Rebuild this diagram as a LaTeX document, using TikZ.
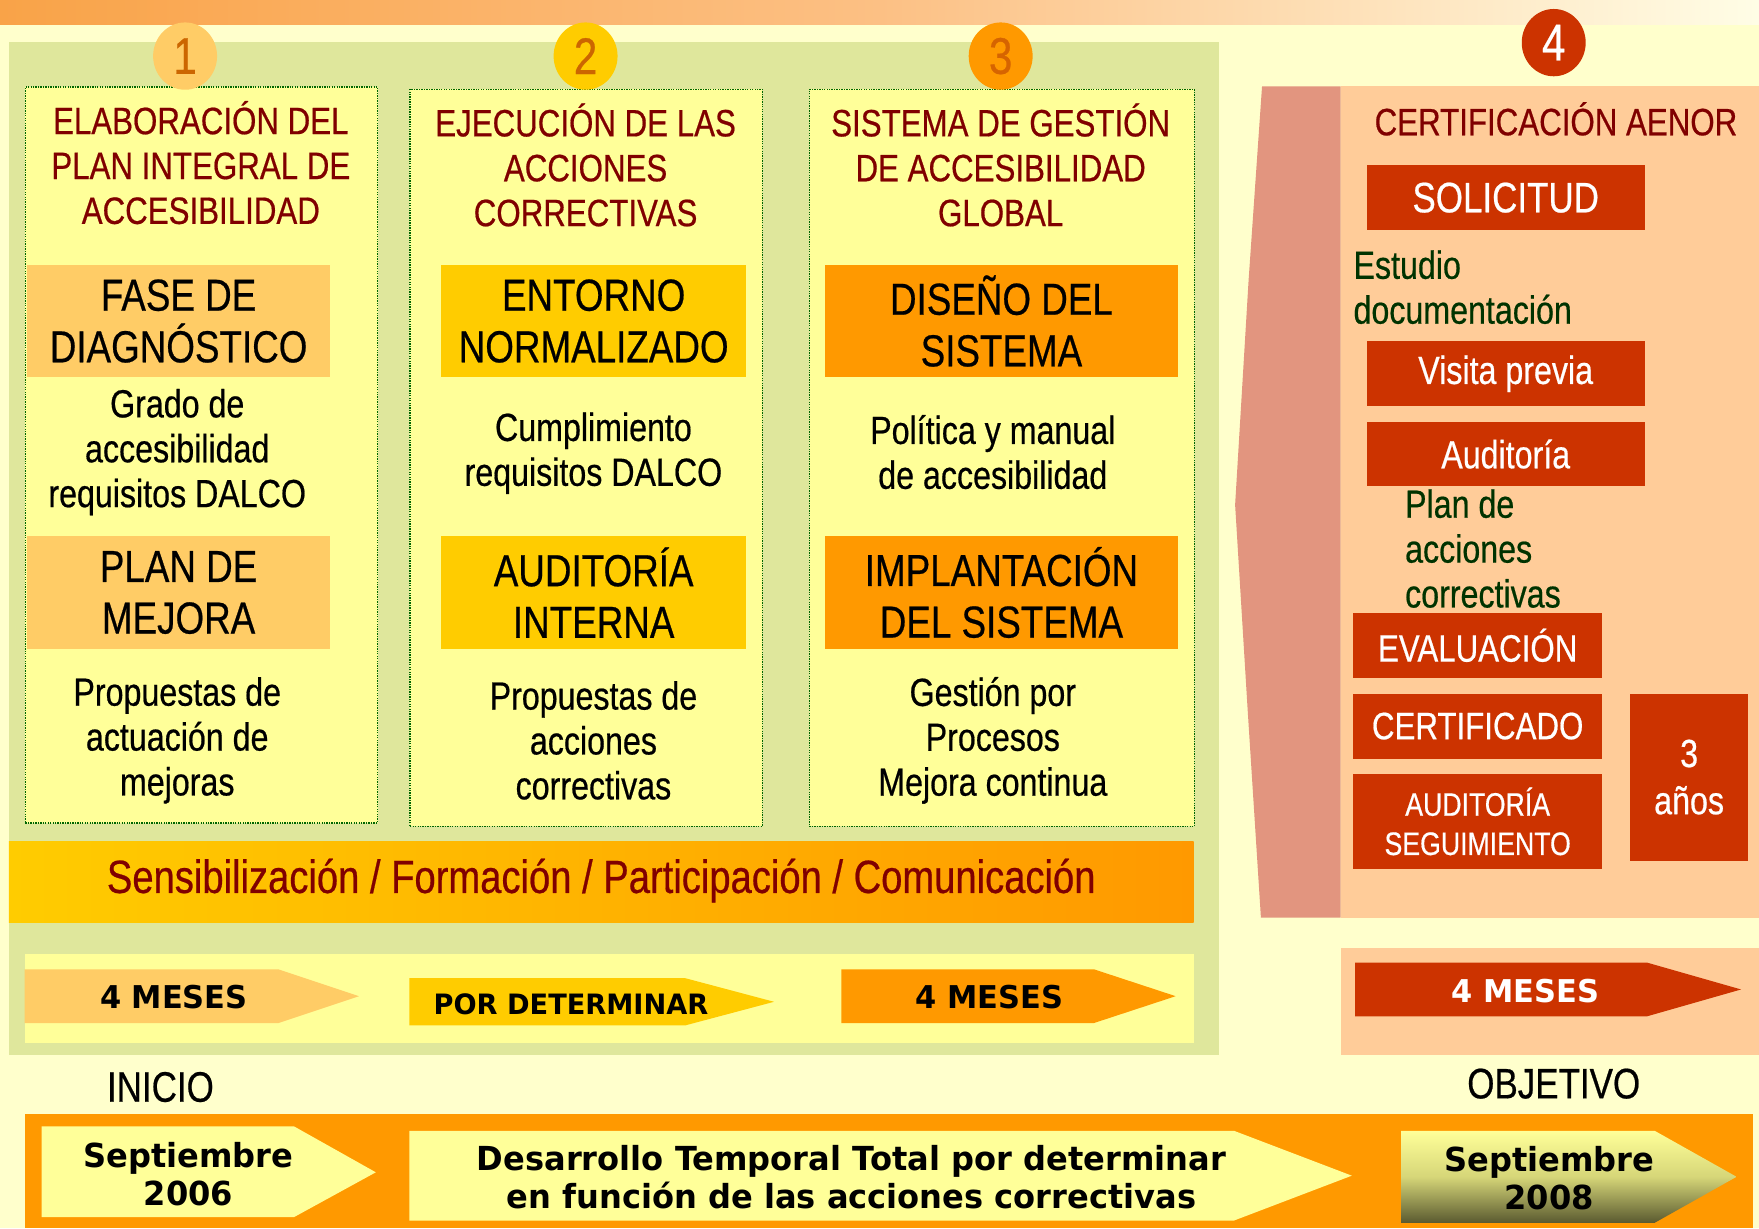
\documentclass[tikz,border=0pt]{standalone}
\usepackage{fontspec}
\setmainfont{Liberation Sans}[FakeStretch=0.82,FakeBold=0.5]
\newfontfamily\widefont{DejaVu Sans}[FakeStretch=0.97]
\usetikzlibrary{shapes.geometric}
\definecolor{cream}{HTML}{FFFFCC}
\definecolor{greenpanel}{HTML}{DFE79C}
\definecolor{lightyel}{HTML}{FFFF99}
\definecolor{peachA}{HTML}{FFCC66}
\definecolor{goldA}{HTML}{FFCC00}
\definecolor{orangeA}{HTML}{FF9900}
\definecolor{redA}{HTML}{CC3300}
\definecolor{maroon}{HTML}{800000}
\definecolor{dkgreen}{HTML}{003300}
\definecolor{dotgreen}{HTML}{006600}
\definecolor{peachB}{HTML}{FFCC99}
\definecolor{pinkhatch}{HTML}{E2957F}
\definecolor{digit}{HTML}{CC6600}
\definecolor{olive}{HTML}{5A5A30}
\tikzset{
  fsz/.style 2 args={font=\fontsize{#1}{#2}\selectfont},
  wfs/.style 2 args={font=\widefont\bfseries\fontsize{#1}{#2}\selectfont},
  colbox/.style={draw=dotgreen, densely dotted, line width=1.2pt, fill=lightyel, inner sep=0, anchor=north west},
  stepbox/.style={inner sep=0, anchor=north west, align=center, fsz={40}{46}, text=black},
  redbox/.style={fill=redA, inner sep=0, anchor=north west, align=center, text=white},
  numcirc/.style={ellipse, minimum width=57, minimum height=60, inner sep=0, fsz={46}{50}},
  title/.style={align=center, fsz={34}{40}, text=maroon},
  desc/.style={align=center, fsz={35}{40}, text=black},
  greentxt/.style={align=left, fsz={35}{40}, text=dkgreen, anchor=west},
}
\begin{document}
\begin{tikzpicture}[x=1pt,y=-1pt]
\useasboundingbox (0,0) rectangle (1568,1095);
\fill[cream] (0,0) rectangle (1568,1095);
% top banner
\shade[left color={rgb,255:red,249;green,163;blue,72}, right color={rgb,255:red,255;green,253;blue,230}, middle color={rgb,255:red,252;green,192;blue,132}] (0,0) rectangle (1568,22);
% green panel
\fill[greenpanel] (8,37) rectangle (1087,940);
% columns
\node[colbox, minimum width=314, minimum height=656] (col1) at (22,77) {};
\node[colbox, minimum width=314, minimum height=657] (col2) at (365,79) {};
\node[colbox, minimum width=343, minimum height=657] (col3) at (721,79) {};
% number circles
\node[numcirc, fill=peachA, text=digit] (n1) at (165,50) {1};
\node[numcirc, fill=goldA, text=digit] (n2) at (522,50) {2};
\node[numcirc, fill=orangeA, text={rgb,255:red,214;green,100;blue,0}] (n3) at (892,50) {3};
\node[numcirc, fill=redA, text=white] (n4) at (1385,38) {4};
% column 1
\node[title] (t1) at (179,145) {ELABORACIÓN DEL\\PLAN INTEGRAL DE\\ACCESIBILIDAD};
\node[stepbox, fill=peachA, minimum width=270, minimum height=100] (fase) at (24,236) {FASE DE\\DIAGNÓSTICO};
\node[desc] (grado) at (158,403) {Grado de\\accesibilidad\\requisitos DALCO};
\node[stepbox, fill=peachA, minimum width=270, minimum height=100] (plan) at (24,478) {PLAN DE\\MEJORA};
\node[desc] (prop1) at (158,660) {Propuestas de\\actuación de\\mejoras};
% column 2
\node[title] (t2) at (522,147) {EJECUCIÓN DE LAS\\ACCIONES\\CORRECTIVAS};
\node[stepbox, fill=goldA, minimum width=272, minimum height=100] (entorno) at (393,236) {ENTORNO\\NORMALIZADO};
\node[desc] (cumpl) at (529,404) {Cumplimiento\\requisitos DALCO};
\node[stepbox, fill=goldA, minimum width=272, minimum height=100] (audint) at (393,478) {AUDITORÍA\\INTERNA};
\node[desc] (prop2) at (529,660) {Propuestas de\\acciones\\correctivas};
% column 3
\node[title] (t3) at (892,147) {SISTEMA DE GESTIÓN\\DE ACCESIBILIDAD\\GLOBAL};
\node[stepbox, fill=orangeA, minimum width=315, minimum height=100] (diseno) at (735,236) {DISEÑO DEL\\SISTEMA};
\node[desc] (polit) at (885,403) {Política y manual\\de accesibilidad};
\node[stepbox, fill=orangeA, minimum width=315, minimum height=100] (impl) at (735,478) {IMPLANTACIÓN\\DEL SISTEMA};
\node[desc] (gest) at (885,660) {Gestión por\\Procesos\\Mejora continua};
% sensibilizacion bar
\shade[left color=goldA, right color=orangeA] (8,750) rectangle (1064,822);
\node[fsz={41.5}{46}, text=maroon] (sens) at (536,785) {Sensibilización / Formación / Participación / Comunicación};
% lower inner box with arrows
\fill[lightyel] (22,850) rectangle (1064,930);
\fill[peachA] (22,864) -- (248,864) -- (320,888) -- (248,912) -- (22,912) -- cycle;
\node[wfs={28}{30}] (m1) at (155,889) {4 MESES};
\fill[goldA] (365,872) -- (611,872) -- (690,893) -- (611,914) -- (365,914) -- cycle;
\node[wfs={25}{26}] (pordet) at (509,895) {POR DETERMINAR};
\fill[orangeA] (750,864) -- (975,864) -- (1048,888) -- (975,912) -- (750,912) -- cycle;
\node[wfs={28}{30}] (m3) at (882,889) {4 MESES};
% right panel
\fill[pinkhatch] (1125,77) -- (1195,77) -- (1195,818) -- (1124,818) -- (1112,630) -- (1101,450) -- (1113,250) -- cycle;
\fill[peachB] (1195,77) rectangle (1568,818);
\node[title] (cert) at (1387,106) {CERTIFICACIÓN AENOR};
\node[redbox, fsz={38}{44}, minimum width=248, minimum height=58] (sol) at (1218,147) {SOLICITUD};
\node[greentxt] (estudio) at (1203,256) {Estudio\\documentación};
\node[redbox, fsz={35}{40}, minimum width=248, minimum height=58] (visita) at (1218,304) {Visita previa};
\node[redbox, fsz={35}{40}, minimum width=248, minimum height=57] (audit) at (1218,376) {Auditoría};
\node[greentxt] (planac) at (1249,489) {Plan de\\acciones\\correctivas};
\node[redbox, fsz={34}{40}, minimum width=222, minimum height=58] (eval) at (1206,546) {EVALUACIÓN};
\node[redbox, fsz={34}{40}, minimum width=222, minimum height=58] (certif) at (1206,618) {CERTIFICADO};
\node[redbox, fsz={29}{35}, minimum width=222, minimum height=84] (audseg) at (1206,690) {AUDITORÍA\\SEGUIMIENTO};
\node[redbox, fsz={35}{42}, minimum width=105, minimum height=149] (anos) at (1453,618) {3\\años};
% right lower box
\fill[peachB] (1195,845) rectangle (1568,940);
\fill[redA] (1208,858) -- (1468,858) -- (1552,882) -- (1468,906) -- (1208,906) -- cycle;
\node[wfs={28}{30}, text=white] (m4) at (1360,883) {4 MESES};
% inicio / objetivo
\node[fsz={38}{44}] (inicio) at (143,969) {INICIO};
\node[fsz={38}{44}] (objetivo) at (1385,966) {OBJETIVO};
% bottom bar
\fill[orangeA] (22,993) rectangle (1563,1095);
\fill[lightyel] (37,1004) -- (262,1004) -- (335,1045) -- (262,1085) -- (37,1085) -- cycle;
\node[wfs={29.5}{34}, align=center] (sep06) at (168,1047) {Septiembre\\2006};
\fill[lightyel] (365,1008) -- (1100,1008) -- (1205,1048) -- (1100,1088) -- (365,1088) -- cycle;
\node[wfs={29.5}{34}, align=center] (desar) at (759,1049) {Desarrollo Temporal Total por determinar\\en función de las acciones correctivas};
\shade[top color=lightyel, bottom color=olive, middle color={rgb,255:red,214;green,214;blue,120}] (1249,1008) -- (1475,1008) -- (1548,1049) -- (1475,1090) -- (1249,1090) -- cycle;
\node[wfs={29.5}{34}, align=center] (sep08) at (1381,1050) {Septiembre\\2008};
\end{tikzpicture}
\end{document}
